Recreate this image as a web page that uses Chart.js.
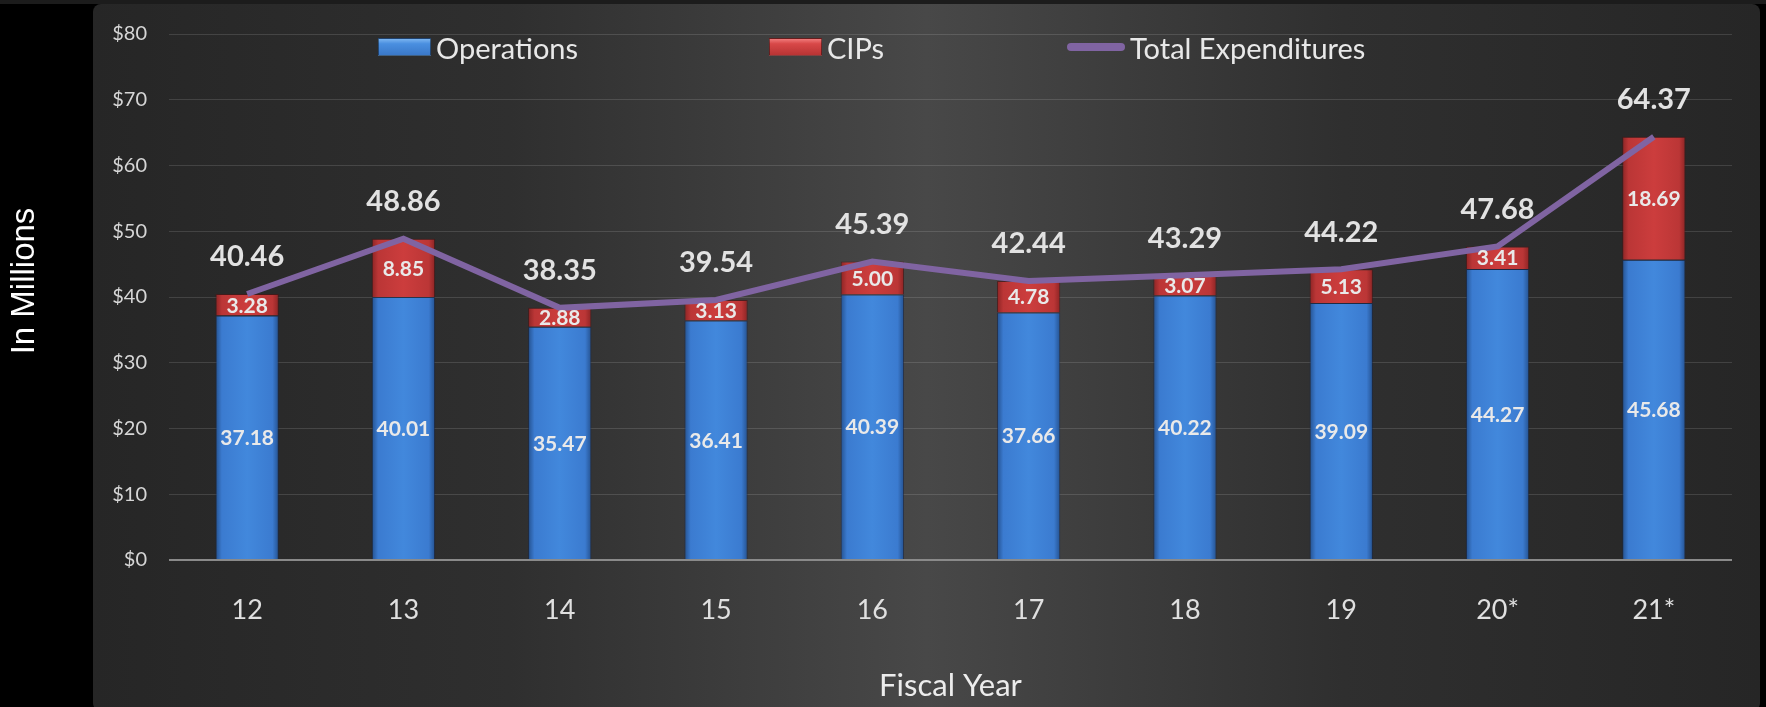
<!DOCTYPE html>
<html>
<head>
<meta charset="utf-8">
<script src="https://cdn.jsdelivr.net/npm/chart.js@4"></script>
<style>
  html, body { margin: 0; padding: 0; background: #000; }
  #wrap { position: relative; width: 1766px; height: 707px; }
  #legend { position: absolute; left: 0; top: 0; width: 100%; height: 0; font-family: Lato, sans-serif; }
  .lg-item { position: absolute; top: 29px; height: 36px; display: flex; align-items: center; color: #e8e8e8; font-size: 29px; white-space: nowrap; }
  .lg-box { width: 53px; height: 18px; margin-right: 5px; box-sizing: border-box; border: 1px solid rgba(0,0,0,0.45); }
  .lg-line { width: 58px; height: 8px; border-radius: 4px; margin-right: 5px; }
</style>
</head>
<body>
<div id="wrap">
  <canvas id="chart" width="1766" height="707"></canvas>
  <div id="legend"></div>
</div>
<script>
const years = ['12', '13', '14', '15', '16', '17', '18', '19', '20*', '21*'];
const operations = [37.18, 40.01, 35.47, 36.41, 40.39, 37.66, 40.22, 39.09, 44.27, 45.68];
const cips = [3.28, 8.85, 2.88, 3.13, 5.00, 4.78, 3.07, 5.13, 3.41, 18.69];
const totals = [40.46, 48.86, 38.35, 39.54, 45.39, 42.44, 43.29, 44.22, 47.68, 64.37];
const yTicks = [0, 10, 20, 30, 40, 50, 60, 70, 80];

const BAR_PCT = 0.405;

// horizontal bevel-ish gradient across each bar
function barFill(edge, mid, flat) {
  return (ctx) => {
    const chart = ctx.chart;
    const x = chart.scales.x;
    if (!chart.chartArea || !x) return flat;
    const cx = x.getPixelForValue(ctx.dataIndex);
    const half = (x.width / years.length) * BAR_PCT / 2;
    const g = chart.ctx.createLinearGradient(cx - half, 0, cx + half, 0);
    g.addColorStop(0, edge);
    g.addColorStop(0.1, mid);
    g.addColorStop(0.5, flat);
    g.addColorStop(0.9, mid);
    g.addColorStop(1, edge);
    return g;
  };
}

const panelBg = {
  id: 'panelBg',
  beforeDraw(chart) {
    const c = chart.ctx;
    const w = chart.width, h = chart.height;
    c.save();
    c.fillStyle = '#000';
    c.fillRect(0, 0, w, h);
    c.fillStyle = '#1c1c1c';
    c.fillRect(0, 0, w, 4);
    const g = c.createLinearGradient(93, 0, 1760, 0);
    g.addColorStop(0, '#262626');
    g.addColorStop(0.25, '#2f2f2f');
    g.addColorStop(0.5, '#484848');
    g.addColorStop(0.75, '#2f2f2f');
    g.addColorStop(1, '#262626');
    c.fillStyle = g;
    c.beginPath();
    c.roundRect(93, 4, 1760 - 93, h, 8);
    c.fill();
    // y axis title sits in the black strip, centred a bit above the plot middle
    c.translate(25, 281);
    c.rotate(-Math.PI / 2);
    c.textAlign = 'center';
    c.textBaseline = 'middle';
    c.font = '33px "Liberation Sans", Arial, sans-serif';
    c.fillStyle = '#ffffff';
    c.fillText('In Millions', 0, 0);
    c.restore();
  }
};

const valueLabels = {
  id: 'valueLabels',
  afterDatasetsDraw(chart) {
    const c = chart.ctx;
    c.save();
    c.textAlign = 'center';
    c.textBaseline = 'middle';
    // segment values inside bars
    c.font = 'bold 21px Lato, sans-serif';
    c.fillStyle = '#e9e9e9';
    [0, 1].forEach(di => {
      const meta = chart.getDatasetMeta(di);
      const vals = chart.data.datasets[di].data;
      meta.data.forEach((el, i) => {
        c.fillText(vals[i].toFixed(2), el.x, (el.y + el.base) / 2 + 1);
      });
    });
    // totals above the line
    c.font = 'bold 29px Lato, sans-serif';
    c.fillStyle = '#e2e2e2';
    const lm = chart.getDatasetMeta(2);
    lm.data.forEach((pt, i) => {
      c.fillText(totals[i].toFixed(2), pt.x, pt.y - 37);
    });
    c.restore();
  }
};

const chart = new Chart(document.getElementById('chart').getContext('2d'), {
  data: {
    labels: years,
    datasets: [
      {
        type: 'bar',
        label: 'Operations',
        data: operations,
        backgroundColor: barFill('#24518f', '#3b7bd0', '#4288dc'),
        borderColor: 'rgba(20,40,80,0.6)',
        borderWidth: 1,
        stack: 'exp',
        order: 2
      },
      {
        type: 'bar',
        label: 'CIPs',
        data: cips,
        backgroundColor: barFill('#8c2424', '#bb3636', '#cc3d3d'),
        borderColor: 'rgba(80,20,20,0.7)',
        borderWidth: 1,
        stack: 'exp',
        order: 2
      },
      {
        type: 'line',
        label: 'Total Expenditures',
        data: totals,
        borderColor: '#8064a2',
        borderWidth: 6,
        pointRadius: 0,
        tension: 0,
        stack: 'total',
        order: 0
      }
    ]
  },
  options: {
    responsive: false,
    animation: false,
    layout: { padding: { top: 33, right: 34, left: 0, bottom: 0 } },
    datasets: { bar: { barPercentage: BAR_PCT, categoryPercentage: 1 } },
    plugins: {
      legend: { display: false },
      tooltip: { enabled: false }
    },
    scales: {
      x: {
        stacked: true,
        grid: { display: false },
        border: { display: false },
        ticks: { color: '#e0e0e0', font: { family: 'Lato', size: 27 }, padding: 26 },
        title: { display: true, text: 'Fiscal Year', color: '#ececec', font: { family: 'Lato', size: 31 }, padding: { top: 0, bottom: 2 } },
        afterFit: (s) => { s.height = 707 - 560; }
      },
      y: {
        stacked: true,
        min: 0,
        max: 80,
        afterBuildTicks: (s) => { s.ticks = yTicks.map(v => ({ value: v })); },
        grid: {
          drawTicks: false,
          color: (ctx) => ctx.tick && ctx.tick.value === 0 ? '#8a8a8a' : 'rgba(255,255,255,0.13)',
          lineWidth: (ctx) => ctx.tick && ctx.tick.value === 0 ? 2 : 1
        },
        border: { display: false },
        ticks: { color: '#d6d6d6', font: { family: 'Lato', size: 20 }, padding: 22, callback: (v) => '$' + v },
        afterFit: (s) => { s.width = 169; }
      }
    }
  },
  plugins: [panelBg, valueLabels]
});

// legend laid out like the original, built from the datasets
const legendLeft = [378, 769, 1067];
const legendSwatch = [
  'linear-gradient(#7ab4f0 0%, #4a8fe0 30%, #3a78c8 100%)',
  'linear-gradient(#f07a7a 0%, #d84848 30%, #b83434 100%)',
  '#8064a2'
];
const lg = document.getElementById('legend');
chart.data.datasets.forEach((ds, i) => {
  const item = document.createElement('div');
  item.className = 'lg-item';
  item.style.left = legendLeft[i] + 'px';
  const sw = document.createElement('span');
  sw.className = ds.type === 'line' ? 'lg-line' : 'lg-box';
  sw.style.background = legendSwatch[i];
  const tx = document.createElement('span');
  tx.textContent = ds.label;
  item.appendChild(sw);
  item.appendChild(tx);
  lg.appendChild(item);
});
</script>
</body>
</html>
